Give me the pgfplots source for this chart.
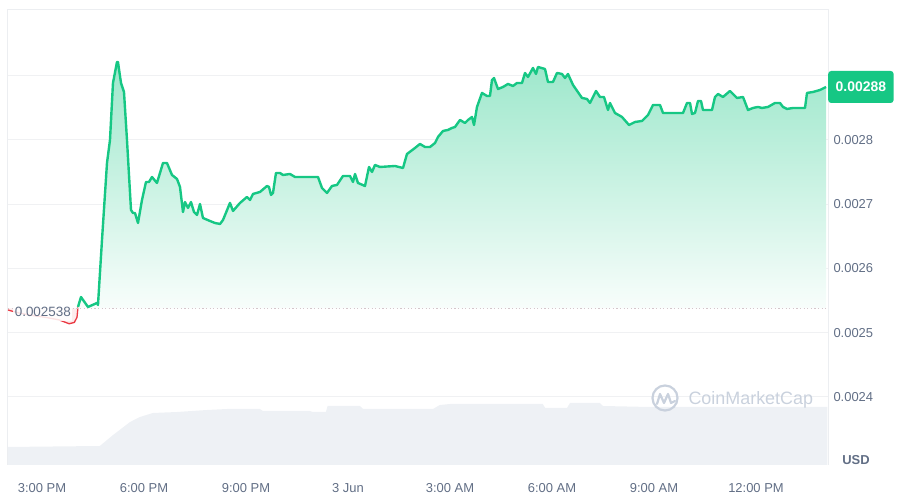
\documentclass[border=0pt]{standalone}
\usepackage{pgfplots}
\pgfplotsset{compat=1.18}
\usepackage{pgfplotstable}
\usepackage{fontspec}
\setmainfont{Liberation Sans}
\definecolor{cmcgreen}{HTML}{16C784}
\definecolor{cmcred}{HTML}{EA3943}
\definecolor{cmcgray}{HTML}{616E85}
\definecolor{gridc}{HTML}{F0F1F3}
\definecolor{framec}{HTML}{ECEEF1}
\definecolor{volc}{HTML}{EEF1F5}
\definecolor{wm}{HTML}{C9D1DD}
\definecolor{basec}{HTML}{D4C6CB}

\pgfplotstableread{
h p
16.059 0.0025401
16.147 0.0025556
16.353 0.0025401
16.618 0.0025463
16.647 0.0025432
16.765 0.0026444
16.912 0.0027642
17.000 0.0028000
17.088 0.0028887
17.206 0.0029214
17.235 0.0029214
17.324 0.0028887
17.412 0.0028747
17.500 0.0028000
17.618 0.0026911
17.676 0.0026864
17.735 0.0026864
17.824 0.0026708
17.941 0.0027066
18.059 0.0027346
18.147 0.0027346
18.235 0.0027424
18.382 0.0027331
18.559 0.0027642
18.676 0.0027642
18.824 0.0027455
18.971 0.0027393
19.059 0.0027269
19.147 0.0026879
19.206 0.0027035
19.294 0.0026942
19.382 0.0027035
19.471 0.0026879
19.559 0.0026833
19.647 0.0027004
19.735 0.0026786
19.941 0.0026739
20.088 0.0026708
20.235 0.0026693
20.324 0.0026755
20.529 0.0027020
20.618 0.0026895
20.824 0.0027020
21.029 0.0027113
21.118 0.0027066
21.206 0.0027160
21.412 0.0027191
21.618 0.0027284
21.676 0.0027269
21.735 0.0027144
21.794 0.0027175
21.882 0.0027486
22.000 0.0027486
22.088 0.0027455
22.294 0.0027471
22.441 0.0027424
22.588 0.0027424
22.882 0.0027424
23.118 0.0027424
23.235 0.0027253
23.382 0.0027175
23.529 0.0027284
23.676 0.0027300
23.853 0.0027440
24.059 0.0027440
24.147 0.0027346
24.206 0.0027471
24.294 0.0027331
24.500 0.0027284
24.618 0.0027580
24.706 0.0027502
24.794 0.0027611
24.941 0.0027580
25.382 0.0027595
25.618 0.0027564
25.735 0.0027782
25.971 0.0027876
26.118 0.0027938
26.265 0.0027891
26.412 0.0027891
26.559 0.0027953
26.647 0.0028047
26.794 0.0028140
26.941 0.0028156
27.059 0.0028187
27.147 0.0028202
27.294 0.0028311
27.441 0.0028265
27.529 0.0028311
27.647 0.0028358
27.706 0.0028233
27.794 0.0028514
27.941 0.0028732
28.088 0.0028685
28.176 0.0028685
28.235 0.0028934
28.294 0.0028965
28.412 0.0028794
28.559 0.0028825
28.706 0.0028872
28.853 0.0028840
28.971 0.0028887
29.118 0.0028887
29.206 0.0029043
29.294 0.0028981
29.441 0.0029121
29.529 0.0029027
29.588 0.0029136
29.794 0.0029105
29.882 0.0028903
30.029 0.0028903
30.147 0.0029043
30.294 0.0029027
30.382 0.0028965
30.471 0.0029027
30.618 0.0028856
30.882 0.0028654
31.029 0.0028638
31.118 0.0028576
31.294 0.0028763
31.412 0.0028669
31.529 0.0028669
31.647 0.0028467
31.706 0.0028576
31.853 0.0028420
32.059 0.0028358
32.265 0.0028233
32.441 0.0028280
32.647 0.0028296
32.824 0.0028389
32.971 0.0028545
33.176 0.0028545
33.265 0.0028420
33.529 0.0028420
33.853 0.0028420
33.971 0.0028576
34.059 0.0028576
34.118 0.0028405
34.206 0.0028420
34.294 0.0028607
34.382 0.0028607
34.441 0.0028467
34.706 0.0028467
34.794 0.0028669
34.882 0.0028716
35.029 0.0028669
35.235 0.0028763
35.324 0.0028716
35.441 0.0028654
35.618 0.0028669
35.765 0.0028467
35.912 0.0028498
36.059 0.0028514
36.176 0.0028498
36.353 0.0028514
36.559 0.0028576
36.706 0.0028576
36.794 0.0028514
36.912 0.0028483
37.088 0.0028498
37.441 0.0028498
37.500 0.0028732
37.676 0.0028747
37.882 0.0028778
38.059 0.0028825
}\pricedata

\pgfplotstableread{
h v
13.971 0
13.971 18
16.70 19
17.09 30
17.59 43
17.88 48
18.26 52
18.97 53
19.85 55
20.44 56
21.41 56
21.50 54
22.88 54
22.97 53
23.35 53
23.40 59
24.35 59
24.45 56
26.50 56
26.70 60
27.00 61
29.73 61
29.80 57
30.44 57
30.53 62
31.41 62
31.50 59
32.88 58
38.10 58
38.10 0
}\voldata

\begin{document}
\begin{tikzpicture}[x=1bp,y=1bp]
\path (0,0) rectangle (900,500);

% volume
\begin{axis}[at={(7bp,35bp)}, anchor=south west, scale only axis,
  width=821bp, height=455bp,
  xmin=13.971, xmax=38.118, ymin=0, ymax=455, axis lines=none]
\addplot[draw=none, fill=volc] table[x=h,y=v]{\voldata};
\end{axis}

% price
\begin{axis}[at={(7bp,35bp)}, anchor=south west, scale only axis,
  width=821bp, height=455bp,
  xmin=13.971, xmax=38.118, ymin=0.00229417, ymax=0.0030023,
  axis line style={draw=none},
  xtick={15,18,21,24,27,30,33,36},
  xticklabels={3:00 PM,6:00 PM,9:00 PM,3 Jun,3:00 AM,6:00 AM,9:00 AM,12:00 PM},
  ytick={0.0024,0.0025,0.0026,0.0027,0.0028,0.0029},
  yticklabels={0.0024,0.0025,0.0026,0.0027,0.0028,{}},
  yticklabel pos=right,
  ymajorgrids, major grid style={gridc, line width=1bp},
  major tick length=0pt,
  scaled y ticks=false,
  tick label style={font=\fontsize{13}{13}\selectfont, text=cmcgray},
  xticklabel style={anchor=base, yshift=-28bp},
  yticklabel style={anchor=west, xshift=2bp},
  clip mode=individual,
]
\draw[framec, line width=1bp] (rel axis cs:0,0) -- (rel axis cs:0,1) -- (rel axis cs:1,1) -- (rel axis cs:1,0);

\addplot[draw=none, fill=cmcred!10] coordinates {
(14.000,0.0025354)(14.3,0.002531)(14.7,0.002527)(15.1,0.002524)(15.5,0.002520)
(15.8,0.002514)(15.95,0.002516)(16.03,0.002524)(16.059,0.0025401)}
 -- (axis cs:16.059,0.002538) -- (axis cs:14.0,0.002538) -- cycle;
\addplot[cmcred, line width=1.3bp] coordinates {
(14.000,0.0025354)(14.3,0.002531)(14.7,0.002527)(15.1,0.002524)(15.5,0.002520)
(15.8,0.002514)(15.95,0.002516)(16.03,0.002524)(16.059,0.0025401)};

\addplot[draw=none, top color=cmcgreen!42!white, bottom color=cmcgreen!3!white]
  table[x=h,y=p]{\pricedata}
  -- (axis cs:38.059,0.002538) -- (axis cs:16.059,0.002538) -- cycle;

\addplot[basec, line width=1bp, dash pattern=on 1.2bp off 2.4bp]
  coordinates {(14.0,0.002538)(38.118,0.002538)};

\addplot[cmcgreen, line width=2.4bp, line join=round] table[x=h,y=p]{\pricedata};

\node[fill=white, fill opacity=0.85, text opacity=1, inner xsep=1.5bp, inner ysep=4bp, anchor=west, text=cmcgray,
  font=\fontsize{13.5}{13.5}\selectfont, yshift=-4bp] at (axis cs:14.15,0.002538) {0.002538};

\node[fill=cmcgreen, text=white, font=\bfseries\fontsize{14}{14}\selectfont,
  rounded corners=3bp, anchor=west, minimum height=32bp, inner xsep=7.5bp]
  at (axis cs:38.118,0.0028825) {0.00288};
\end{axis}

\node[font=\bfseries\fontsize{13}{13}\selectfont, text=cmcgray] at (856,40) {USD};

% watermark
\draw[wm, line width=2.2bp] (665,102) circle (12.5);
\draw[wm, line width=2.2bp, line join=round, line cap=round]
  (657,96) -- (660,106) -- (664,97) -- (668,106) -- (671,97) -- (675,99);
\node[anchor=west, text=wm, font=\fontsize{18}{18}\selectfont] at (685,100) {CoinMarketCap};
\end{tikzpicture}
\end{document}
